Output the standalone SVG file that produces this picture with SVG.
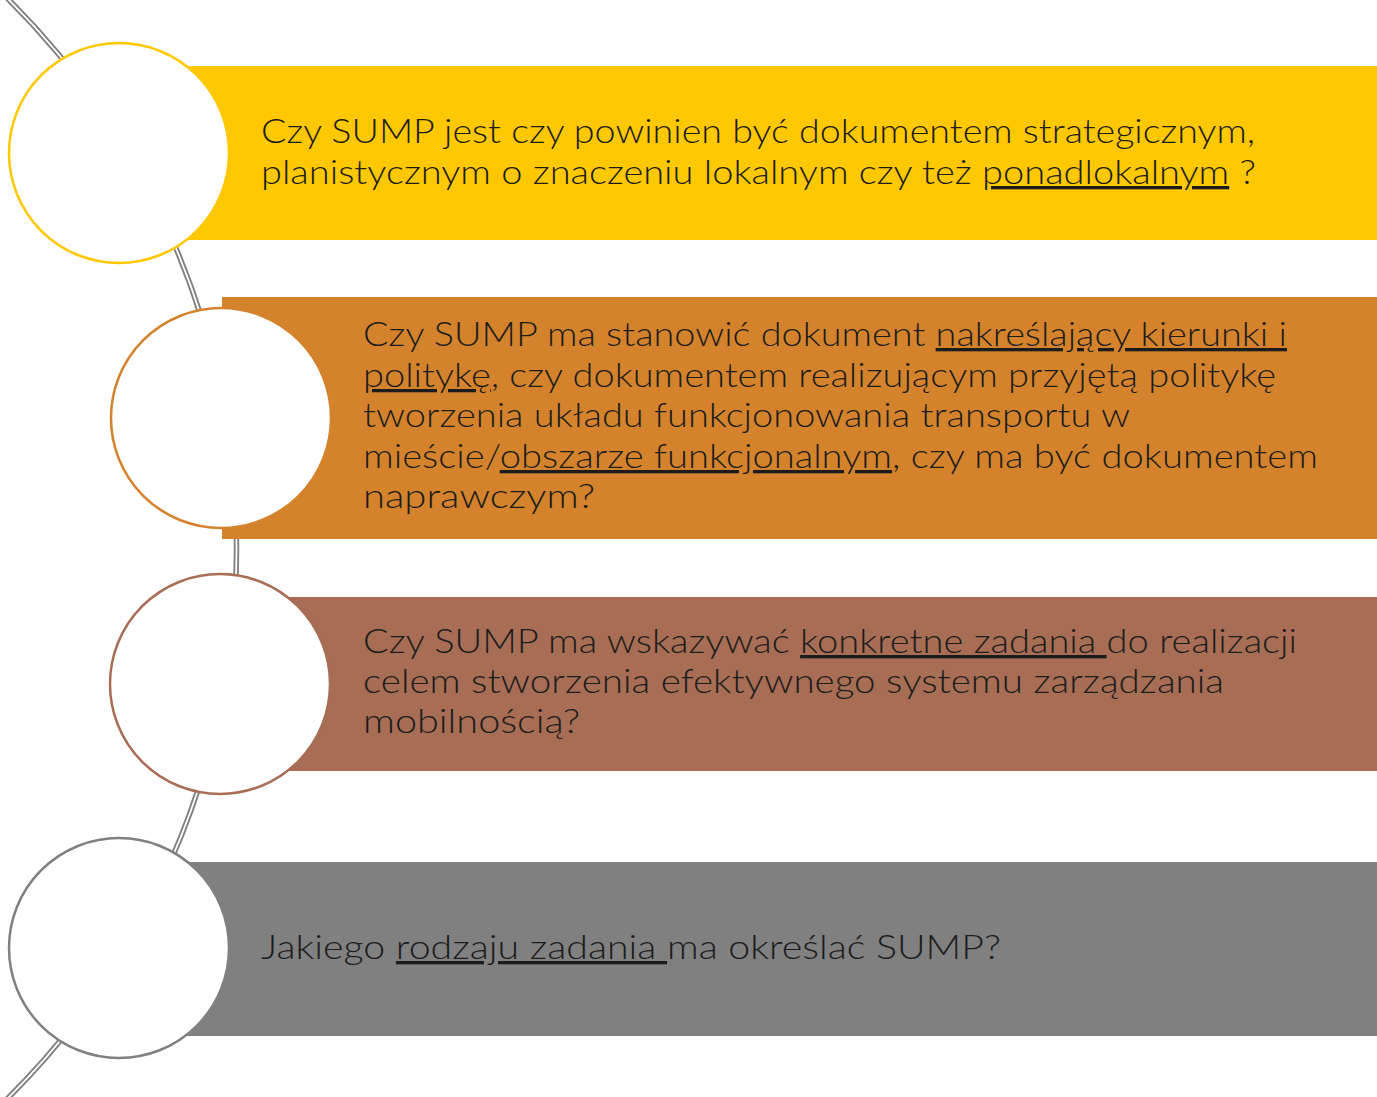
<svg xmlns="http://www.w3.org/2000/svg" width="1377" height="1097" viewBox="0 0 1377 1097">
<style>
.t{font-family:"Lato","Noto Sans","Liberation Sans",sans-serif;font-weight:300;font-size:33px;fill:#1c1c1c}
.u{text-decoration:underline;text-decoration-skip-ink:none}
.c{fill:#ffffff;stroke-width:2.5}
</style>
<rect width="1377" height="1097" fill="#ffffff"/>
<g id="connectors">
<path d="M 5 -4 A 775 775 0 0 1 5 1101" fill="none" stroke="#7f7f7f" stroke-width="5.5"/>
<path d="M 5 -4 A 775 775 0 0 1 5 1101" fill="none" stroke="#ffffff" stroke-width="1.8"/>
</g>
<g id="node1">
<rect x="119" y="66" width="1258" height="174" fill="#ffc800"/>
<circle class="c" cx="119" cy="153" r="110" stroke="#ffc800"/>
<text class="t" x="261" y="143" textLength="994" lengthAdjust="spacingAndGlyphs">Czy SUMP jest czy powinien być dokumentem strategicznym,</text>
<text class="t" x="261" y="184" textLength="995" lengthAdjust="spacingAndGlyphs">planistycznym o znaczeniu lokalnym czy też <tspan class="u">ponadlokalnym</tspan> ?</text>
</g>
<g id="node2">
<rect x="222" y="297" width="1155" height="242" fill="#d4832c"/>
<circle class="c" cx="221" cy="418" r="110" stroke="#d4832c"/>
<text class="t" x="363" y="346" textLength="924" lengthAdjust="spacingAndGlyphs">Czy SUMP ma stanowić dokument <tspan class="u">nakreślający kierunki i</tspan></text>
<text class="t" x="363" y="387" textLength="913" lengthAdjust="spacingAndGlyphs"><tspan class="u">politykę</tspan>, czy dokumentem realizującym przyjętą politykę</text>
<text class="t" x="363" y="427" textLength="767" lengthAdjust="spacingAndGlyphs">tworzenia układu funkcjonowania transportu w</text>
<text class="t" x="363" y="468" textLength="955" lengthAdjust="spacingAndGlyphs">mieście/<tspan class="u">obszarze funkcjonalnym</tspan>, czy ma być dokumentem</text>
<text class="t" x="363" y="508" textLength="232" lengthAdjust="spacingAndGlyphs">naprawczym?</text>
</g>
<g id="node3">
<rect x="220" y="597" width="1157" height="174" fill="#a86d55"/>
<circle class="c" cx="220" cy="684" r="110" stroke="#a86d55"/>
<text class="t" x="363" y="653" textLength="934" lengthAdjust="spacingAndGlyphs">Czy SUMP ma wskazywać <tspan class="u">konkretne zadania </tspan>do realizacji</text>
<text class="t" x="363" y="693" textLength="861" lengthAdjust="spacingAndGlyphs">celem stworzenia efektywnego systemu zarządzania</text>
<text class="t" x="363" y="733" textLength="217" lengthAdjust="spacingAndGlyphs">mobilnością?</text>
</g>
<g id="node4">
<rect x="119" y="862" width="1258" height="174" fill="#808080"/>
<circle class="c" cx="119" cy="948" r="110" stroke="#808080"/>
<text class="t" x="261" y="959" textLength="740" lengthAdjust="spacingAndGlyphs">Jakiego <tspan class="u">rodzaju zadania </tspan>ma określać SUMP?</text>
</g>
</svg>
